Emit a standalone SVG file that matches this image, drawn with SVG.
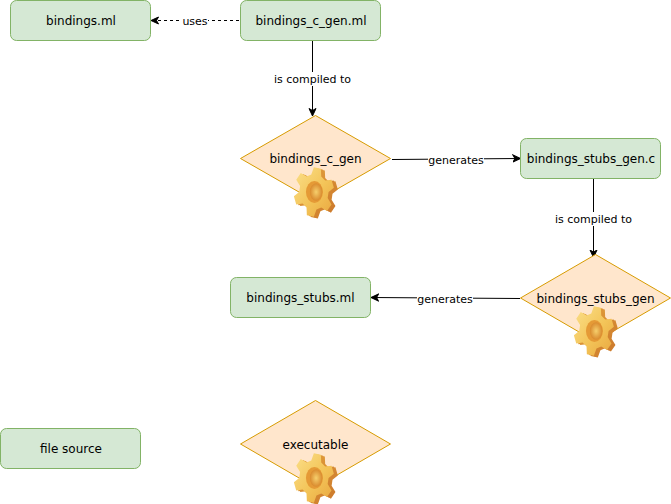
<svg xmlns="http://www.w3.org/2000/svg" width="671" height="504" viewBox="0 0 671 504">
<style>
.box{fill:#d5e8d4;stroke:#82b366;stroke-width:1}
.dia{fill:#ffe6cc;stroke:#d79b00;stroke-width:1}
.t{font-family:"DejaVu Sans",sans-serif;font-size:12px;fill:#000;text-anchor:middle}
.l{font-family:"DejaVu Sans",sans-serif;font-size:11px;fill:#000;text-anchor:middle}
.e{fill:none;stroke:#000;stroke-width:1}
.lb{fill:#fff}
</style>
<defs>
<marker id="a" markerUnits="userSpaceOnUse" markerWidth="10" markerHeight="10" refX="8" refY="4.5" orient="auto"><path d="M0.5 1 L8 4.5 L0.5 8 L2.500 4.5Z" fill="#000" stroke="#000"/></marker>
<linearGradient id="gf" x1="0" y1="0" x2="1" y2="1"><stop offset="0" stop-color="#fbe08a"/><stop offset=".55" stop-color="#f3c458"/><stop offset="1" stop-color="#e9a63f"/></linearGradient>
<linearGradient id="gb" x1="0" y1="0" x2="1" y2="1"><stop offset="0" stop-color="#e8a83f"/><stop offset="1" stop-color="#c9752a"/></linearGradient>
<radialGradient id="gh"><stop offset="0" stop-color="#f6cf6c"/><stop offset="1" stop-color="#d98a2e"/></radialGradient>
<path id="gp" d="M13 0L17.700-3.100L15.600-9L10-8.400L6.500-11.300L6.200-16.900L0-18L-2.300-12.800L-6.500-11.300L-11.600-13.800L-15.600-9L-12.200-4.400L-13 0L-17.700 3.100L-15.600 9L-10 8.400L-6.500 11.300L-6.200 16.900L0 18L2.300 12.800L6.500 11.300L11.600 13.800L15.600 9L12.200 4.400Z"/>
<g id="gear" transform="scale(1.13 1.1)">
<use href="#gp" transform="translate(2.500 1.500) scale(1 1.25)" fill="url(#gb)"/>
<use href="#gp" transform="translate(1 .8) scale(1 1.25)" fill="url(#gb)"/>
<use href="#gp" transform="translate(-1 0) scale(1 1.25)" fill="url(#gf)"/>
<ellipse cx="-.5" cy="0" rx="7.500" ry="10" fill="#e59a36"/>
<ellipse cx="1" cy="0" rx="5.500" ry="8" fill="url(#gh)"/>
</g>
</defs>
<g id="connectors">
<path class="e" stroke-dasharray="3 3" marker-end="url(#a)" d="M239 20.500H151"/>
<path class="e" marker-end="url(#a)" d="M312.500 41V116"/>
<path class="e" marker-end="url(#a)" d="M392 159.500L520.500 158.500"/>
<path class="e" marker-end="url(#a)" d="M593.500 179V257.500"/>
<path class="e" marker-end="url(#a)" d="M520 298.500L371 297.500"/>
<rect class="lb" x="182" y="14" width="26" height="13"/>
<text class="l" x="195" y="24.500">uses</text>
<rect class="lb" x="274" y="72" width="77" height="14"/>
<text class="l" x="312.500" y="83">is compiled to</text>
<rect class="lb" x="428" y="153" width="56" height="13"/>
<text class="l" x="456" y="163.500">generates</text>
<rect class="lb" x="555" y="212" width="77" height="14"/>
<text class="l" x="593.500" y="223">is compiled to</text>
<rect class="lb" x="417" y="292" width="56" height="13"/>
<text class="l" x="445" y="302.500">generates</text>
</g>
<g id="bindings-ml"><rect class="box" x="10.500" y=".5" width="140" height="40" rx="6"/><text class="t" x="81" y="25">bindings.ml</text></g>
<g id="bindings-c-gen-ml"><rect class="box" x="240.500" y=".5" width="140" height="40" rx="6"/><text class="t" x="311" y="25">bindings_c_gen.ml</text></g>
<g id="bindings-c-gen"><path class="dia" d="M315.500 115.500L390.500 158.500L315.500 201.500L240.500 158.500Z"/><text class="t" x="315.500" y="163">bindings_c_gen</text><use href="#gear" x="315" y="192"/></g>
<g id="bindings-stubs-gen-c"><rect class="box" x="520.500" y="138.500" width="140" height="40" rx="6"/><text class="t" x="591" y="163">bindings_stubs_gen.c</text></g>
<g id="bindings-stubs-gen"><path class="dia" d="M595.500 254.500L670.500 298L595.500 341.500L520.500 298Z"/><text class="t" x="595.500" y="302.500">bindings_stubs_gen</text><use href="#gear" x="595" y="331"/></g>
<g id="bindings-stubs-ml"><rect class="box" x="230.500" y="277.500" width="140" height="40" rx="6"/><text class="t" x="300.500" y="302">bindings_stubs.ml</text></g>
<g id="file-source"><rect class="box" x=".5" y="428.500" width="140" height="40" rx="6"/><text class="t" x="71" y="453">file source</text></g>
<g id="executable"><path class="dia" d="M315.500 400.500L390.500 444L315.500 487.500L240.500 444Z"/><text class="t" x="315.500" y="448.500">executable</text><use href="#gear" x="315" y="478"/></g>
</svg>
